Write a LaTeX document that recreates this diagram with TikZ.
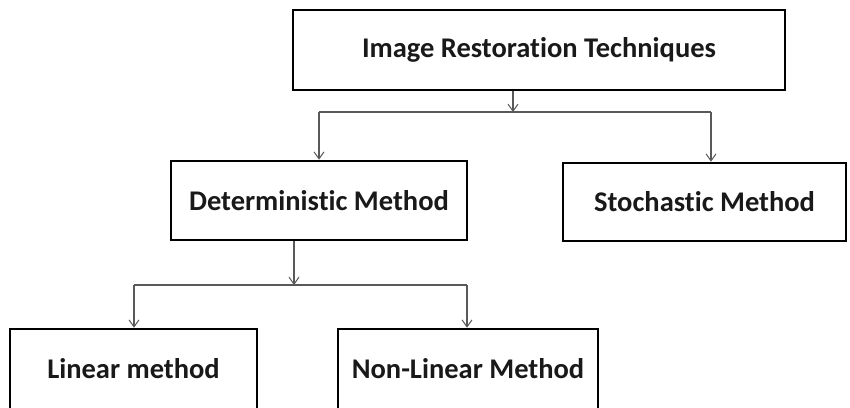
\documentclass[tikz,border=0pt]{standalone}
\usepackage{fontspec}
\setmainfont[Ligatures={NoCommon}]{Carlito}
\usetikzlibrary{arrows.meta}
\begin{document}
\begin{tikzpicture}[x=1pt,y=-1pt,
  box/.style={draw=black,line width=2.6pt,rectangle,inner sep=0pt,font=\fontsize{28.5}{32}\selectfont\bfseries,text=black!90},
  conn/.style={draw=black!65,line width=1.1pt},
  arr/.style={conn,-{Straight Barb[length=7pt,width=10pt,line width=1pt]}}]
\useasboundingbox[fill=white] (0,0) rectangle (850,407);
\clip (0,0) rectangle (850,407);
\node[box,minimum width=492pt,minimum height=80pt] (top) at (539,50) {Image Restoration Techniques};
\node[box,minimum width=296pt,minimum height=79pt] (det) at (319,200.5) {Deterministic Method};
\node[box,minimum width=283pt,minimum height=78pt] (sto) at (704.5,202) {Stochastic Method};
\node[box,minimum width=247pt,minimum height=80pt] (lin) at (133.5,369) {Linear method};
\node[box,minimum width=260pt,minimum height=80pt] (non) at (468,369) {Non-Linear Method};
\coordinate (j1) at (513,112);
\coordinate (j1l) at (319,112);
\coordinate (j1r) at (711,112);
\coordinate (j2) at (294,285);
\coordinate (j2l) at (134,285);
\coordinate (j2r) at (467,285);
\draw[arr] (top.south -| j1) -- (j1);
\draw[conn] (j1l) -- (j1r);
\draw[arr] (j1l) -- (det.north -| j1l);
\draw[arr] (j1r) -- (sto.north -| j1r);
\draw[arr] (det.south -| j2) -- (j2);
\draw[conn] (j2l) -- (j2r);
\draw[arr] (j2l) -- (lin.north -| j2l);
\draw[arr] (j2r) -- (non.north -| j2r);
\end{tikzpicture}
\end{document}
